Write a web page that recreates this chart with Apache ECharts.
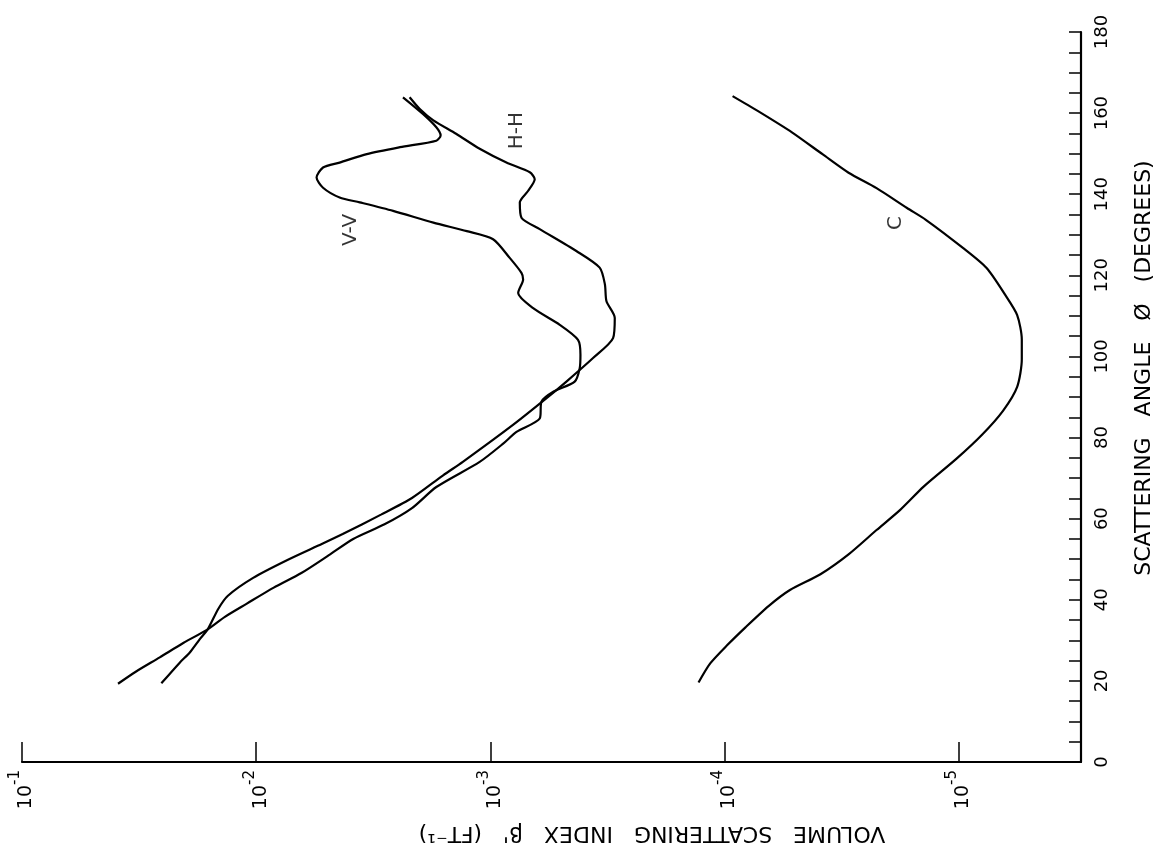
<!DOCTYPE html>
<html>
<head>
<meta charset="utf-8">
<script src="https://cdn.jsdelivr.net/npm/echarts@6/dist/echarts.min.js"></script>
<style>
  html, body { margin: 0; padding: 0; background: #fff; }
  #main { width: 1156px; height: 856px; }
</style>
</head>
<body>
<div id="main"></div>
<script>
// scattering angle (deg) / volume scattering index
var vvAngle = [19.3, 22.2, 25.8, 29.4, 32.7, 35.8, 39.0, 43.0, 46.6, 51.0, 55.0, 58.6, 62.6, 67.8, 74.0, 78.5, 81.4, 84.7, 88.9, 91.3, 93.8, 97.1, 100.4, 104.1, 107.8, 111.9, 115.7, 119.0, 120.6, 124.3, 128.9, 130.9, 133.0, 135.9, 138.0, 139.2, 141.6, 144.1, 146.6, 147.8, 149.9, 151.6, 153.2, 154.5, 156.5, 159.8, 163.9];
var vvValue = [0.0389, 0.0328, 0.0258, 0.0204, 0.0161, 0.0136, 0.0110, 0.00841, 0.00641, 0.00489, 0.00385, 0.00283, 0.00216, 0.00170, 0.00111, 0.000881, 0.000773, 0.000615, 0.000604, 0.000538, 0.000436, 0.000415, 0.000412, 0.000422, 0.000505, 0.000656, 0.000760, 0.000724, 0.000736, 0.000826, 0.000973, 0.00126, 0.00175, 0.00260, 0.00361, 0.00440, 0.00518, 0.00552, 0.00518, 0.00440, 0.00337, 0.00243, 0.00170, 0.00163, 0.00170, 0.00194, 0.00236];

var hhAngle = [19.4, 24.5, 27.0, 30.3, 32.7, 37.8, 41.0, 45.4, 49.8, 53.8, 56.2, 61.0, 65.1, 70.7, 74.0, 83.1, 89.7, 93.8, 99.6, 104.5, 109.5, 113.6, 117.8, 121.9, 126.0, 131.4, 134.2, 138.0, 140.8, 143.7, 145.4, 147.8, 151.2, 154.9, 158.2, 161.0, 163.9];
var hhValue = [0.0254, 0.0212, 0.0192, 0.0174, 0.0161, 0.0145, 0.0132, 0.0103, 0.00735, 0.00522, 0.00427, 0.00293, 0.00216, 0.00159, 0.00131, 0.000800, 0.000575, 0.000473, 0.000364, 0.000299, 0.000294, 0.000319, 0.000324, 0.000341, 0.000429, 0.000615, 0.000736, 0.000748, 0.000690, 0.000646, 0.000678, 0.000853, 0.00111, 0.00140, 0.00175, 0.00200, 0.00221];

var cAngle = [19.6, 24.3, 28.7, 33.2, 38.5, 42.4, 46.3, 51.2, 57.2, 62.1, 67.9, 74.8, 80.7, 86.6, 92.5, 99.3, 104.2, 110.2, 115.1, 121.8, 126.7, 133.7, 136.6, 141.5, 145.3, 149.8, 155.2, 160.6, 164.2];
var cValue = [1.29e-4, 1.15e-4, 9.77e-5, 8.13e-5, 6.46e-5, 5.25e-5, 3.89e-5, 2.95e-5, 2.24e-5, 1.78e-5, 1.41e-5, 1.02e-5, 7.94e-6, 6.46e-6, 5.62e-6, 5.37e-6, 5.37e-6, 5.62e-6, 6.31e-6, 7.59e-6, 9.55e-6, 1.38e-5, 1.66e-5, 2.24e-5, 2.95e-5, 3.80e-5, 5.13e-5, 7.24e-5, 9.23e-5];

// curve labels and where they sit
var curveNames = ['V-V', 'H-H', 'C'];
var curveLabelValue = [0.00394, 0.00077, 1.86e-5];
var curveLabelAngle = [131.2, 155.7, 132.9];

var angleTicks = [0, 20, 40, 60, 80, 100, 120, 140, 160, 180];

var font = 'DejaVu Sans';

function pairs(vals, angs) {
  return vals.map(function (v, i) { return [v, angs[i]]; });
}

function curve(name, vals, angs) {
  return {
    name: name,
    type: 'line',
    data: pairs(vals, angs),
    showSymbol: false,
    smooth: 0.25,
    lineStyle: { color: '#000', width: 2.2 },
    silent: true
  };
}

var chart = echarts.init(document.getElementById('main'));

var option = {
  backgroundColor: '#fff',
  animation: false,
  grid: { left: 22, right: 75, top: 32, bottom: 94 },
  xAxis: {
    type: 'log',
    logBase: 10,
    inverse: true,
    min: 3e-6,
    max: 0.1,
    position: 'bottom',
    splitLine: { show: false },
    axisLine: { lineStyle: { color: '#000', width: 2.2 } },
    axisTick: { inside: true, length: 20, lineStyle: { color: '#000', width: 1.5 } },
    axisLabel: {
      rotate: 90,
      margin: 8,
      color: '#000',
      showMinLabel: false,
      formatter: function (v) {
        var e = Math.log10(v);
        if (Math.abs(e - Math.round(e)) > 1e-6) return '';
        return '{b|10}{s|' + Math.round(e) + '}';
      },
      rich: {
        b: { fontSize: 19, fontFamily: font, color: '#000', lineHeight: 28, verticalAlign: 'bottom' },
        s: { fontSize: 15, fontFamily: font, color: '#000', lineHeight: 28, verticalAlign: 'top' }
      }
    }
  },
  yAxis: {
    type: 'value',
    position: 'right',
    min: 0,
    max: 180,
    interval: 5,
    splitLine: { show: false },
    axisLine: { lineStyle: { color: '#000', width: 2.2 } },
    axisTick: { inside: true, length: 12, lineStyle: { color: '#000', width: 1.5 } },
    axisLabel: {
      rotate: 90,
      margin: 12,
      color: '#000',
      fontSize: 18,
      fontFamily: font,
      formatter: function (v) {
        return angleTicks.indexOf(v) >= 0 ? String(v) : '';
      }
    }
  },
  series: [
    curve('V-V', vvValue, vvAngle),
    curve('H-H', hhValue, hhAngle),
    curve('C', cValue, cAngle),
    {
      // text tags next to each curve
      type: 'scatter',
      symbolSize: 0,
      silent: true,
      itemStyle: { color: '#000' },
      data: curveNames.map(function (n, i) {
        return { name: n, value: [curveLabelValue[i], curveLabelAngle[i]] };
      }),
      label: {
        show: true,
        position: 'inside',
        rotate: 90,
        formatter: '{b}',
        color: '#000',
        textBorderWidth: 0,
        textBorderColor: 'transparent',
        fontSize: 20,
        fontFamily: font
      }
    }
  ],
  graphic: [
    {
      type: 'text',
      x: 1144,
      y: 368,
      rotation: Math.PI / 2,
      style: {
        text: 'SCATTERING   ANGLE   Ø   (DEGREES)',
        fill: '#000',
        font: '22px "DejaVu Sans"',
        textAlign: 'center',
        textVerticalAlign: 'middle'
      }
    },
    {
      type: 'text',
      x: 652,
      y: 833,
      rotation: Math.PI,
      style: {
        text: "VOLUME   SCATTERING   INDEX   β'   (FT⁻¹)",
        fill: '#000',
        font: '22px "DejaVu Sans"',
        textAlign: 'center',
        textVerticalAlign: 'middle'
      }
    }
  ]
};

chart.setOption(option);
</script>
</body>
</html>
